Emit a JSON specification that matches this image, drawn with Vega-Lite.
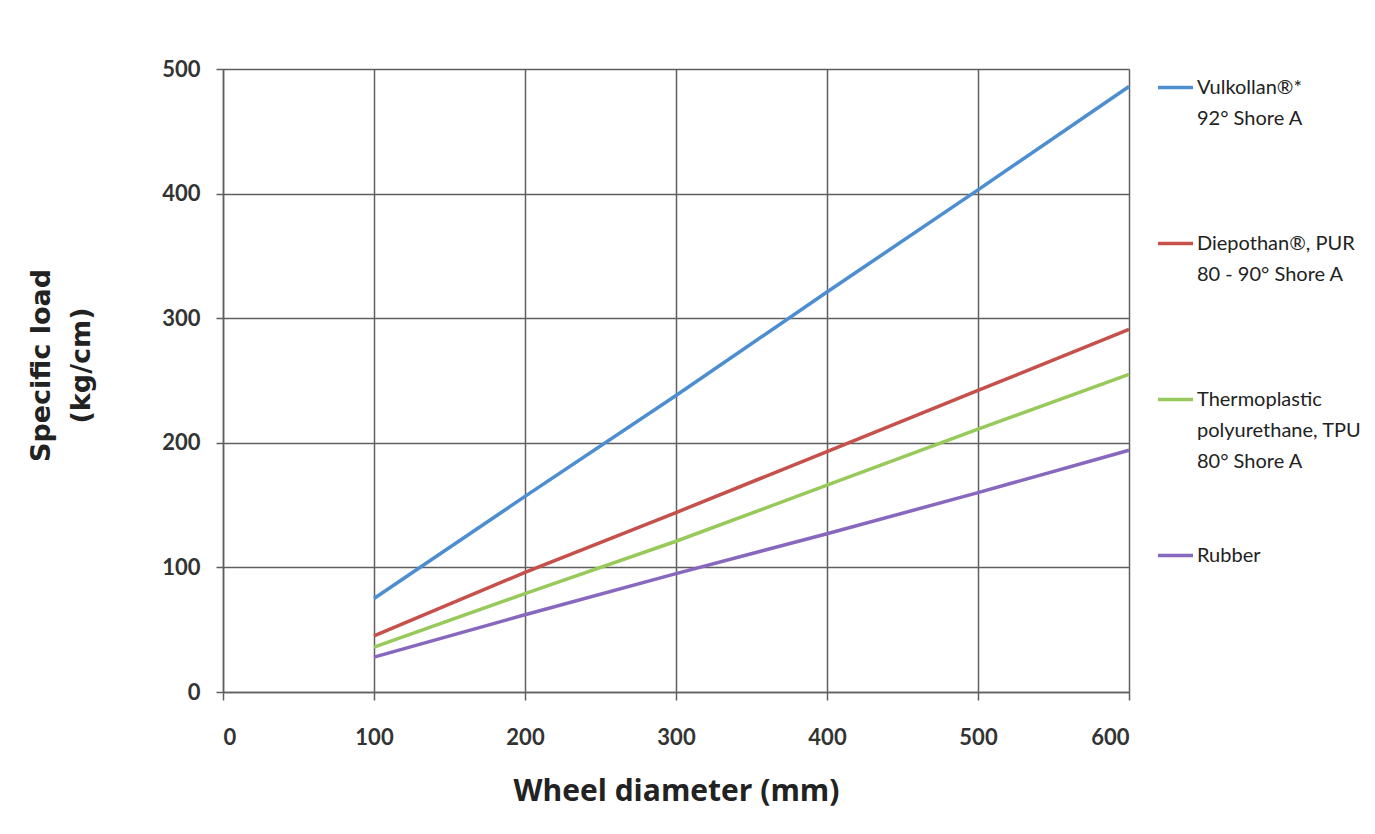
{
  "$schema": "https://vega.github.io/schema/vega-lite/v6.json",
  "autosize": {"type": "none"},
  "width": 906,
  "height": 623,
  "padding": {"left": 223, "top": 69, "right": 246, "bottom": 142},
  "background": "white",
  "data": {
    "values": [
      {"d": 100, "load": 75, "m": "Vulkollan®*\n92° Shore A"},
      {"d": 200, "load": 157, "m": "Vulkollan®*\n92° Shore A"},
      {"d": 300, "load": 238, "m": "Vulkollan®*\n92° Shore A"},
      {"d": 400, "load": 321, "m": "Vulkollan®*\n92° Shore A"},
      {"d": 500, "load": 403, "m": "Vulkollan®*\n92° Shore A"},
      {"d": 600, "load": 486, "m": "Vulkollan®*\n92° Shore A"},
      {"d": 100, "load": 45, "m": "Diepothan®, PUR\n80 - 90° Shore A"},
      {"d": 200, "load": 96, "m": "Diepothan®, PUR\n80 - 90° Shore A"},
      {"d": 300, "load": 144, "m": "Diepothan®, PUR\n80 - 90° Shore A"},
      {"d": 400, "load": 193, "m": "Diepothan®, PUR\n80 - 90° Shore A"},
      {"d": 500, "load": 242, "m": "Diepothan®, PUR\n80 - 90° Shore A"},
      {"d": 600, "load": 291, "m": "Diepothan®, PUR\n80 - 90° Shore A"},
      {"d": 100, "load": 36, "m": "Thermoplastic\npolyurethane, TPU\n80° Shore A"},
      {"d": 200, "load": 79, "m": "Thermoplastic\npolyurethane, TPU\n80° Shore A"},
      {"d": 300, "load": 121, "m": "Thermoplastic\npolyurethane, TPU\n80° Shore A"},
      {"d": 400, "load": 166, "m": "Thermoplastic\npolyurethane, TPU\n80° Shore A"},
      {"d": 500, "load": 211, "m": "Thermoplastic\npolyurethane, TPU\n80° Shore A"},
      {"d": 600, "load": 255, "m": "Thermoplastic\npolyurethane, TPU\n80° Shore A"},
      {"d": 100, "load": 28, "m": "Rubber"},
      {"d": 200, "load": 62, "m": "Rubber"},
      {"d": 300, "load": 95, "m": "Rubber"},
      {"d": 400, "load": 127, "m": "Rubber"},
      {"d": 500, "load": 160, "m": "Rubber"},
      {"d": 600, "load": 194, "m": "Rubber"}
    ]
  },
  "mark": {"type": "line", "strokeWidth": 3.5},
  "encoding": {
    "x": {
      "field": "d", "type": "quantitative",
      "scale": {"domain": [0, 600], "nice": false},
      "axis": {
        "values": [0, 100, 200, 300, 400, 500, 600],
        "title": "Wheel diameter (mm)",
        "titleFont": "Open Sans",
        "titleFontSize": 30,
        "labelPadding": 27,
        "titlePadding": 28,
        "tickSize": 8
      }
    },
    "y": {
      "field": "load", "type": "quantitative",
      "scale": {"domain": [0, 500], "nice": false},
      "axis": {
        "values": [0, 100, 200, 300, 400, 500],
        "title": ["Specific load", "(kg/cm)"],
        "titleFont": "DejaVu Sans",
        "titleFontSize": 27,
        "titleLineHeight": 40,
        "titlePadding": 66,
        "titleY": 296,
        "labelPadding": 16,
        "tickSize": 7
      }
    },
    "color": {
      "field": "m", "type": "nominal",
      "scale": {
        "domain": ["Vulkollan®*\n92° Shore A", "Diepothan®, PUR\n80 - 90° Shore A", "Thermoplastic\npolyurethane, TPU\n80° Shore A", "Rubber"],
        "range": ["#4C8ED0", "#C6504B", "#98C95B", "#8868BE"]
      },
      "legend": {
        "title": null,
        "orient": "none",
        "legendX": 933,
        "legendY": -1,
        "symbolType": "stroke",
        "symbolSize": 1225,
        "symbolStrokeWidth": 3.5,
        "labelFont": "Lato",
        "labelFontSize": 20,
        "labelColor": "#222222",
        "labelOffset": 2,
        "labelLimit": 400,
        "labelBaseline": "middle",
        "rowPadding": 2,
        "labelExpr": "split(datum.label + slice('\\n\\n\\n\\n', 0, 5 - length(split(datum.label, '\\n'))), '\\n')",
        "encode": {"labels": {"update": {"lineHeight": {"value": 31}}}}
      }
    }
  },
  "config": {
    "view": {"stroke": null},
    "axis": {
      "labelFont": "Lato",
      "labelFontWeight": "bold",
      "labelFontSize": 22,
      "labelColor": "#333333",
      "titleFont": "Lato",
      "titleFontWeight": "bold",
      "titleFontSize": 28,
      "titleColor": "#222222",
      "gridColor": "#5f5f5f",
      "gridWidth": 1.5,
      "gridOpacity": 1,
      "domainColor": "#5f5f5f",
      "domainWidth": 1.5,
      "tickColor": "#5f5f5f",
      "tickWidth": 1.5
    }
  }
}
